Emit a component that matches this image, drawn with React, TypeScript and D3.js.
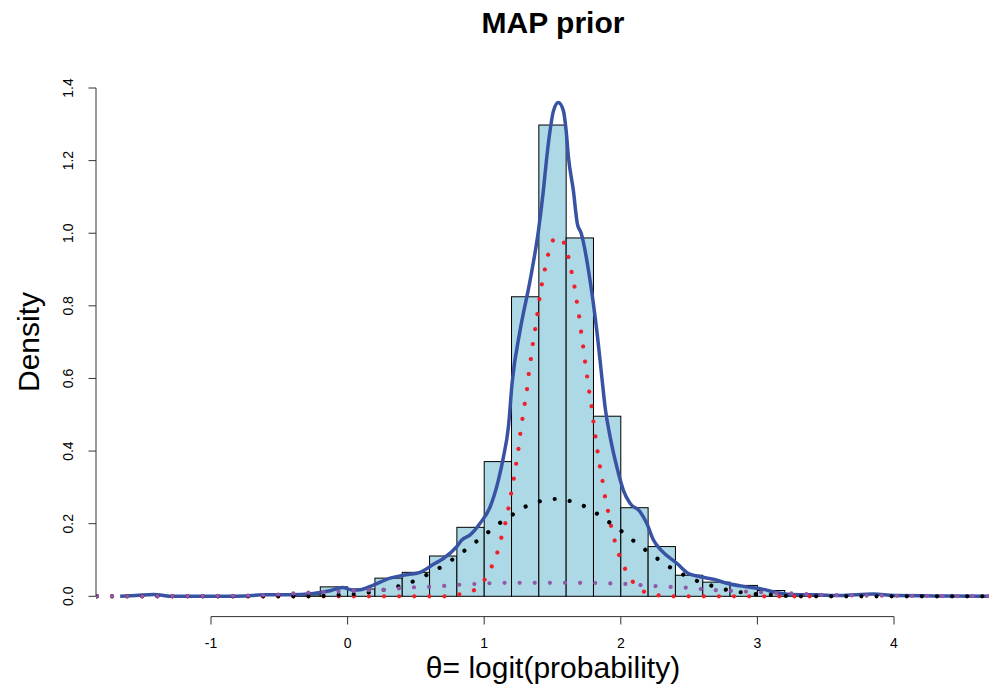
import React from "react";
import * as d3 from "d3";

const W = 989;
const H = 688;

// Histogram: lower bin edges (width 0.2) and densities
const binStarts = [-0.4, -0.2, 0.0, 0.2, 0.4, 0.6, 0.8, 1.0, 1.2, 1.4, 1.6, 1.8, 2.0, 2.2, 2.4, 2.6, 2.8, 3.0, 3.2, 3.4];
const binDensity = [0.004, 0.026, 0.02, 0.05, 0.066, 0.111, 0.19, 0.371, 0.825, 1.298, 0.987, 0.496, 0.244, 0.137, 0.058, 0.039, 0.03, 0.016, 0.005, 0.003];
const binWidth = 0.2;

// Kernel density (blue)
const densX = [-1.665, -1.55, -1.42, -1.275, -1.1, -0.9, -0.75, -0.616, -0.421, -0.25, -0.12, -0.04, 0.043, 0.092, 0.189, 0.311, 0.409, 0.531, 0.628, 0.701, 0.799, 0.836, 0.897, 0.97, 1.043, 1.104, 1.141, 1.177, 1.205, 1.263, 1.336, 1.397, 1.433, 1.458, 1.482, 1.507, 1.543, 1.58, 1.6, 1.617, 1.653, 1.682, 1.71, 1.775, 1.824, 1.865, 1.885, 1.922, 1.971, 2.019, 2.068, 2.141, 2.19, 2.239, 2.3, 2.41, 2.495, 2.58, 2.678, 2.776, 2.922, 3.044, 3.142, 3.239, 3.435, 3.6, 3.849, 4.0, 4.3, 4.696];
const densY = [0.0, 0.002, 0.005, 0.0, 0.0, 0.0, 0.001, 0.004, 0.004, 0.008, 0.016, 0.024, 0.017, 0.018, 0.031, 0.05, 0.058, 0.066, 0.088, 0.104, 0.137, 0.155, 0.169, 0.201, 0.246, 0.32, 0.384, 0.466, 0.59, 0.733, 0.87, 1.007, 1.117, 1.209, 1.282, 1.337, 1.36, 1.337, 1.282, 1.209, 1.117, 1.026, 1.0, 0.87, 0.733, 0.59, 0.521, 0.439, 0.356, 0.292, 0.256, 0.233, 0.201, 0.155, 0.125, 0.091, 0.063, 0.054, 0.047, 0.036, 0.026, 0.019, 0.01, 0.005, 0.004, 0.002, 0.006, 0.002, 0.001, 0.0];

// Mixture component 1 (red, narrow)
const redX = [-1.835, 0.7, 0.824, 0.926, 1.005, 1.056, 1.097, 1.126, 1.155, 1.178, 1.197, 1.217, 1.234, 1.251, 1.265, 1.28, 1.297, 1.314, 1.326, 1.341, 1.356, 1.373, 1.389, 1.404, 1.422, 1.444, 1.468, 1.502, 1.539, 1.575, 1.612, 1.636, 1.658, 1.675, 1.693, 1.707, 1.722, 1.736, 1.751, 1.766, 1.783, 1.797, 1.812, 1.827, 1.843, 1.863, 1.88, 1.902, 1.924, 1.949, 1.98, 2.022, 2.075, 2.151, 2.256, 2.363, 3.47];
const redY = [0, 0, 0.006, 0.017, 0.047, 0.083, 0.122, 0.162, 0.202, 0.243, 0.283, 0.324, 0.365, 0.407, 0.448, 0.489, 0.531, 0.572, 0.612, 0.653, 0.695, 0.736, 0.777, 0.818, 0.86, 0.9, 0.941, 0.98, 0.99, 0.98, 0.941, 0.9, 0.86, 0.818, 0.777, 0.736, 0.695, 0.653, 0.612, 0.571, 0.531, 0.488, 0.448, 0.407, 0.366, 0.325, 0.283, 0.243, 0.202, 0.162, 0.122, 0.083, 0.047, 0.017, 0.004, 0, 0];

// Mixture component 2 (black, medium)
const blackX = [-1.835, -0.3, -0.172, -0.062, 0.05, 0.16, 0.267, 0.377, 0.48, 0.58, 0.677, 0.77, 0.86, 0.946, 1.034, 1.122, 1.212, 1.307, 1.411, 1.521, 1.631, 1.734, 1.832, 1.922, 2.01, 2.096, 2.183, 2.274, 2.364, 2.461, 2.561, 2.666, 2.773, 2.881, 2.99, 3.103, 3.212, 3.35, 4.75];
const blackY = [0, 0, 0.001, 0.004, 0.006, 0.011, 0.018, 0.028, 0.041, 0.059, 0.079, 0.102, 0.127, 0.152, 0.178, 0.204, 0.226, 0.248, 0.262, 0.268, 0.262, 0.248, 0.226, 0.202, 0.178, 0.152, 0.127, 0.102, 0.079, 0.059, 0.042, 0.029, 0.018, 0.011, 0.006, 0.004, 0.001, 0, 0];

// Mixture component 3 (purple, wide)
const purpleX = [-1.835, -0.9, -0.613, -0.504, -0.394, -0.284, -0.174, -0.062, 0.05, 0.16, 0.269, 0.382, 0.492, 0.602, 0.712, 0.824, 0.933, 1.043, 1.153, 1.3, 1.5, 1.7, 1.9, 2.039, 2.149, 2.258, 2.368, 2.48, 2.59, 2.703, 2.813, 2.922, 3.032, 3.142, 3.254, 3.364, 3.474, 3.6, 3.8, 4.2, 4.75];
const purpleY = [0, 0.001, 0.003, 0.005, 0.008, 0.01, 0.012, 0.013, 0.015, 0.017, 0.018, 0.022, 0.025, 0.026, 0.029, 0.032, 0.034, 0.036, 0.037, 0.037, 0.037, 0.037, 0.036, 0.034, 0.031, 0.028, 0.026, 0.024, 0.02, 0.017, 0.015, 0.013, 0.011, 0.009, 0.008, 0.006, 0.004, 0.003, 0.002, 0.001, 0];

const xTicks = [-1, 0, 1, 2, 3, 4];
const yTicks = [0, 0.2, 0.4, 0.6, 0.8, 1.0, 1.2, 1.4];

const FONT = "'Liberation Sans', Arial, Helvetica, sans-serif";

export default function App() {
  const x = d3.scaleLinear().domain([-1, 4]).range([211, 894]);
  const y = d3.scaleLinear().domain([0, 1.4]).range([596.3, 88]);
  const plotLeft = 96;
  const plotRight = 1010;
  const plotTop = 67.7;
  const plotBottom = 616.6;

  const line = d3
    .line<[number, number]>()
    .x((d) => x(d[0]))
    .y((d) => y(d[1]))
    .curve(d3.curveMonotoneX);

  const zip = (a: number[], b: number[]) => a.map((v, i) => [v, b[i]] as [number, number]);

  const dens = line(zip(densX, densY)) || "";
  const red = line(zip(redX, redY)) || "";
  const black = line(zip(blackX, blackY)) || "";
  const purple = line(zip(purpleX, purpleY)) || "";

  const dotStyle = {
    fill: "none",
    strokeWidth: 4.2,
    strokeLinecap: "round" as const,
    strokeDasharray: "0.01 15.1",
  };

  return (
    <svg
      width={W}
      height={H}
      style={{ position: "absolute", left: 0, top: 0, background: "#fff" }}
      fontFamily={FONT}
    >
      <defs>
        <clipPath id="plotclip">
          <rect x={plotLeft} y={plotTop} width={plotRight - plotLeft} height={plotBottom - plotTop} />
        </clipPath>
      </defs>
      <rect x={0} y={0} width={W} height={H} fill="#fff" />

      <text x={553} y={33} textAnchor="middle" fontSize={30} fontWeight="bold" fill="#000">
        MAP prior
      </text>

      <g clipPath="url(#plotclip)">
        {binStarts.map((b, i) => (
          <rect
            key={i}
            x={x(b)}
            y={y(binDensity[i])}
            width={x(b + binWidth) - x(b)}
            height={y(0) - y(binDensity[i])}
            fill="#add8e6"
            stroke="#000"
            strokeWidth={1}
          />
        ))}
        <path d={dens} fill="none" stroke="#3853a4" strokeWidth={3.5} strokeLinejoin="round" />
        <path d={red} stroke="#f0202a" {...dotStyle} />
        <path d={black} stroke="#000" {...dotStyle} />
        <path d={purple} stroke="#9059a8" {...dotStyle} />
      </g>

      {/* x axis */}
      <g stroke="#333" strokeWidth={1} fill="none">
        <line x1={x(-1)} x2={x(4)} y1={616.6} y2={616.6} />
        {xTicks.map((t) => (
          <line key={t} x1={x(t)} x2={x(t)} y1={616.6} y2={624.5} />
        ))}
      </g>
      {xTicks.map((t) => (
        <text key={t} x={x(t)} y={648} textAnchor="middle" fontSize={14} fill="#000">
          {t}
        </text>
      ))}

      {/* y axis */}
      <g stroke="#333" strokeWidth={1} fill="none">
        <line x1={96} x2={96} y1={y(0)} y2={y(1.4)} />
        {yTicks.map((t) => (
          <line key={t} x1={96} x2={88.5} y1={y(t)} y2={y(t)} />
        ))}
      </g>
      {yTicks.map((t) => (
        <text
          key={t}
          transform={`translate(73, ${y(t)}) rotate(-90)`}
          textAnchor="middle"
          fontSize={14}
          fill="#000"
        >
          {t.toFixed(1)}
        </text>
      ))}

      <text x={553} y={678} textAnchor="middle" fontSize={30} fill="#000">
        θ= logit(probability)
      </text>
      <text transform={`translate(39, 342) rotate(-90)`} textAnchor="middle" fontSize={30} fill="#000">
        Density
      </text>
    </svg>
  );
}
